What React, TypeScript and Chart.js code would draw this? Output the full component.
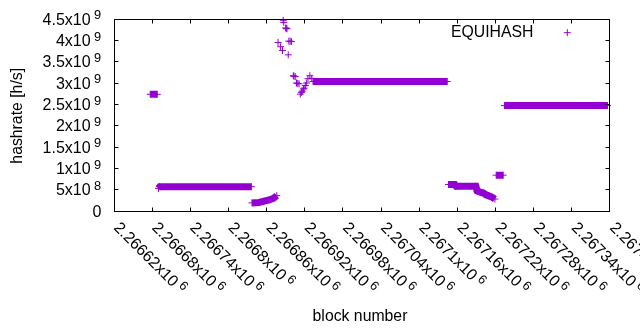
import React, { useEffect, useRef } from 'react';
import { Chart, registerables } from 'chart.js';

Chart.register(...registerables);

const PURPLE = '#9400d3';
const FONT_FAMILY = '"Liberation Sans", Arial, sans-serif';

// X axis (block number) ticks
const xMin = 2266620;
const xMax = 2267400;
const xTickValues = [2266620, 2266680, 2266740, 2266800, 2266860, 2266920, 2266980, 2267040, 2267100, 2267160, 2267220, 2267280, 2267340, 2267400];
const xTickMantissas = ['2.26662', '2.26668', '2.26674', '2.2668', '2.26686', '2.26692', '2.26698', '2.26704', '2.2671', '2.26716', '2.26722', '2.26728', '2.26734', '2.2674'];
const xTickExponent = '6';

// Y axis (hashrate) ticks
const yMax = 4.5e9;
const yTickValues = [0, 5e8, 1e9, 1.5e9, 2e9, 2.5e9, 3e9, 3.5e9, 4e9, 4.5e9];
const yTickMantissas = ['0', '5', '1', '1.5', '2', '2.5', '3', '3.5', '4', '4.5'];
const yTickExponents = ['', '8', '9', '9', '9', '9', '9', '9', '9', '9'];

// Dense runs of consecutive blocks (null separates runs)
const bandBlocks = [
  2266677, 2266688, null,
  2266690, 2266692, 2266836, null,
  2266837, 2266848, 2266856, 2266864, 2266871, 2266876, null,
  2266933, 2267144, null,
  2267146, 2267156, 2267158, 2267189, 2267191, 2267196, 2267201, 2267205, 2267210, 2267215, 2267219, null,
  2267221, 2267232, null,
  2267234, 2267396,
];
const bandValues = [
  2.735e9, 2.735e9, null,
  0.53e9, 0.57e9, 0.57e9, null,
  0.19e9, 0.2e9, 0.23e9, 0.26e9, 0.3e9, 0.36e9, null,
  3.035e9, 3.035e9, null,
  0.62e9, 0.62e9, 0.58e9, 0.58e9, 0.47e9, 0.44e9, 0.42e9, 0.38e9, 0.35e9, 0.32e9, 0.28e9, null,
  0.84e9, 0.84e9, null,
  2.47e9, 2.47e9,
];

// Scattered points of the spike
const spikeBlocks = [2266878, 2266882, 2266885, 2266886, 2266887, 2266890, 2266891, 2266892, 2266894, 2266895, 2266897, 2266899, 2266902, 2266903, 2266905, 2266907, 2266909, 2266911, 2266913, 2266915, 2266916, 2266918, 2266919, 2266921, 2266923, 2266925, 2266928, 2266931];
const spikeValues = [3.95e9, 3.85e9, 3.76e9, 4.47e9, 4.42e9, 4.29e9, 4.28e9, 4.27e9, 3.66e9, 3.98e9, 3.98e9, 3.97e9, 3.17e9, 3.16e9, 3.15e9, 3.0e9, 2.99e9, 2.98e9, 2.74e9, 2.78e9, 2.81e9, 2.86e9, 2.88e9, 2.94e9, 3.0e9, 3.1e9, 3.17e9, 3.11e9];

const legendLabel = 'EQUIHASH';
const xTitle = 'block number';
const yTitle = 'hashrate [h/s]';

const decorPlugin = {
  id: 'gnuplotDecor',
  afterDraw(chart: any) {
    const ctx: CanvasRenderingContext2D = chart.ctx;
    const xs = chart.scales.x;
    const ys = chart.scales.y;
    const { left, right, top, bottom } = chart.chartArea;
    const L = left + 0.5, R = right - 0.5, T = top + 0.5, B = bottom + 0.5;
    ctx.save();
    ctx.strokeStyle = '#000';
    ctx.lineWidth = 1;
    ctx.beginPath();
    ctx.rect(L, T, R - L, B - T);
    for (const v of yTickValues) {
      const py = Math.min(B, Math.max(T, Math.floor(ys.getPixelForValue(v)) + 0.5));
      ctx.moveTo(L, py); ctx.lineTo(L + 4, py);
      ctx.moveTo(R, py); ctx.lineTo(R - 4, py);
    }
    for (const v of xTickValues) {
      const px = Math.min(R, Math.max(L, Math.floor(xs.getPixelForValue(v)) + 0.5));
      ctx.moveTo(px, B); ctx.lineTo(px, B - 4);
      ctx.moveTo(px, T); ctx.lineTo(px, T + 4);
    }
    ctx.stroke();

    ctx.fillStyle = '#000';
    const tickFont = `16px ${FONT_FAMILY}`;
    const supFont = `12.8px ${FONT_FAMILY}`;
    const titleFont = `15.8px ${FONT_FAMILY}`;
    ctx.textBaseline = 'alphabetic';

    // Y tick labels
    yTickValues.forEach((v, i) => {
      const py = ys.getPixelForValue(v);
      const base = py + 5.6;
      const exp = yTickExponents[i];
      if (exp) {
        ctx.font = supFont;
        const supW = ctx.measureText(exp).width;
        ctx.textAlign = 'left';
        ctx.fillText(exp, 101 - supW, base - 5.2);
        ctx.font = tickFont;
        ctx.textAlign = 'right';
        ctx.fillText(yTickMantissas[i] + 'x10', 101 - supW - 3.3, base);
      } else {
        ctx.font = tickFont;
        ctx.textAlign = 'right';
        ctx.fillText(yTickMantissas[i], 101.3, base);
      }
    });

    // X tick labels, rotated
    xTickValues.forEach((v, i) => {
      const px = xs.getPixelForValue(v);
      ctx.save();
      ctx.translate(px - 1, bottom + 17.5);
      ctx.rotate(Math.PI / 4);
      ctx.textAlign = 'left';
      ctx.font = tickFont;
      const main = xTickMantissas[i] + 'x10';
      ctx.fillText(main, 0, 0);
      const w = ctx.measureText(main).width;
      ctx.font = supFont;
      ctx.fillText(xTickExponent, w + 3.3, -5.2);
      ctx.restore();
    });

    // Axis titles
    ctx.font = titleFont;
    ctx.textAlign = 'center';
    ctx.fillText(xTitle, 360, 320.7);
    ctx.save();
    ctx.translate(21.5, 115.8);
    ctx.rotate(-Math.PI / 2);
    ctx.fillText(yTitle, 0, 0);
    ctx.restore();

    // Legend
    ctx.textAlign = 'right';
    ctx.fillText(legendLabel, 533.5, 37.3);
    ctx.strokeStyle = PURPLE;
    ctx.beginPath();
    ctx.moveTo(563.8, 32.7); ctx.lineTo(570.8, 32.7);
    ctx.moveTo(567.3, 29.2); ctx.lineTo(567.3, 36.2);
    ctx.stroke();
    ctx.restore();
  },
};

export default function App() {
  const canvasRef = useRef<HTMLCanvasElement | null>(null);
  useEffect(() => {
    const canvas = canvasRef.current;
    if (!canvas) return;
    const bandData = bandBlocks.map((b, i) => ({
      x: b === null ? (bandBlocks[i - 1] as number) : b,
      y: bandValues[i],
    }));
    const spikeData = spikeBlocks.map((b, i) => ({ x: b, y: spikeValues[i] }));
    const chart = new Chart(canvas, {
      type: 'scatter',
      data: {
        datasets: [
          {
            label: legendLabel,
            data: bandData as any,
            showLine: true,
            spanGaps: false,
            borderColor: PURPLE,
            backgroundColor: PURPLE,
            borderWidth: 7,
            borderCapStyle: 'butt',
            borderJoinStyle: 'miter',
            pointStyle: 'cross',
            pointRadius: 3.5,
            pointBorderWidth: 1,
            pointBorderColor: PURPLE,
            pointBackgroundColor: PURPLE,
            clip: false as any,
          },
          {
            label: legendLabel,
            data: spikeData,
            showLine: false,
            borderColor: PURPLE,
            backgroundColor: PURPLE,
            pointStyle: 'cross',
            pointRadius: 3.5,
            pointBorderWidth: 1,
            pointBorderColor: PURPLE,
            clip: false as any,
          },
        ],
      },
      options: {
        animation: false,
        responsive: false,
        events: [],
        layout: { padding: { left: 114, top: 19, right: 30, bottom: 119 } },
        scales: {
          x: { type: 'linear', min: xMin, max: xMax, display: false },
          y: { type: 'linear', min: 0, max: yMax, display: false },
        },
        plugins: { legend: { display: false }, tooltip: { enabled: false } },
      },
      plugins: [decorPlugin],
    });
    return () => chart.destroy();
  }, []);
  return (
    <div style={{ position: 'fixed', left: 0, top: 0, width: 640, height: 330, background: '#fff' }}>
      <canvas ref={canvasRef} width={640} height={330} style={{ display: 'block' }} />
    </div>
  );
}
